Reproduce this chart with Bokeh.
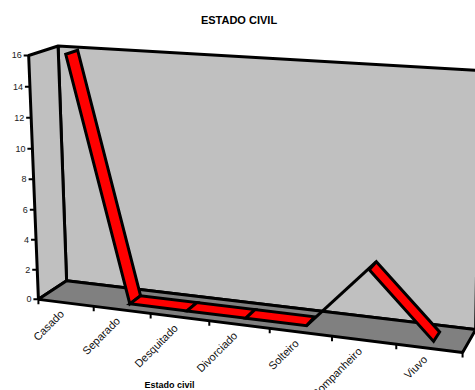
import numpy as np
from bokeh.plotting import figure
from bokeh.core.properties import value
from bokeh.embed import file_html
from bokeh.resources import INLINE

title = "ESTADO CIVIL"
x_title = "Estado civil"
categories = ["Casado", "Separado", "Desquitado", "Divorciado", "Solteiro", "Companheiro", "Viuvo"]
counts = [16, 0, 0, 0, 0, 4, 0]
y_ticks = [0, 2, 4, 6, 8, 10, 12, 14, 16]

# Perspective of the 3-D box: (category position, value, depth) -> page pixel
anchors = [
    ((0, 0, 0), (38, 298)), ((0, 16, 0), (28, 55)), ((0, 0, 1), (66, 281)), ((0, 16, 1), (58, 45)),
    ((7, 0, 0), (462, 352)), ((7, 0, 1), (475, 329)), ((7, 16, 1), (479, 70)),
    ((1, 0, 0), (93, 305)), ((2, 0, 0), (150, 313)), ((3, 0, 0), (209, 320)),
    ((4, 0, 0), (269, 328)), ((5, 0, 0), (332, 336)), ((6, 0, 0), (396, 344)),
    ((0, 8, 0), (33, 180)),
]
A, b = [], []
for (u, v, d), (px, py) in anchors:
    A.append([u, v, d, 1, 0, 0, 0, 0, -px * u, -px * v, -px * d])
    b.append(px)
    A.append([0, 0, 0, 0, u, v, d, 1, -py * u, -py * v, -py * d])
    b.append(py)
M = np.linalg.lstsq(np.array(A, float), np.array(b, float), rcond=None)[0]


def proj(u, v, d):
    w = M[8] * u + M[9] * v + M[10] * d + 1
    return (M[0] * u + M[1] * v + M[2] * d + M[3]) / w, (M[4] * u + M[5] * v + M[6] * d + M[7]) / w


def poly(points):
    xy = [proj(*q) for q in points]
    return [q[0] for q in xy], [q[1] for q in xy]


p = figure(width=475, height=390, x_range=(0, 475), y_range=(390, 0),
           output_backend="svg", toolbar_location=None, min_border=0,
           background_fill_color="white", border_fill_color="white")
p.axis.visible = False
p.grid.visible = False
p.outline_line_color = None

vmax = max(y_ticks)
nc = len(categories)
LW = 3

xs, ys = poly([(0, 0, 1), (nc, 0, 1), (nc, vmax, 1), (0, vmax, 1)])
p.patch(xs, ys, fill_color="#C0C0C0", line_color="black", line_width=LW)
xs, ys = poly([(0, 0, 0), (0, 0, 1), (0, vmax, 1), (0, vmax, 0)])
p.patch(xs, ys, fill_color="#C0C0C0", line_color="black", line_width=LW)
xs, ys = poly([(0, 0, 0), (nc, 0, 0), (nc, 0, 1), (0, 0, 1)])
p.patch(xs, ys, fill_color="#808080", line_color="black", line_width=LW)

# value ticks and labels
for t in y_ticks:
    x0, y0 = proj(0, t, 0)
    p.line([x0 - 5, x0], [y0, y0], line_color="black", line_width=2)
p.text([proj(0, t, 0)[0] - 7 for t in y_ticks], [proj(0, t, 0)[1] for t in y_ticks],
       text=[str(t) for t in y_ticks], text_align="right", text_baseline="middle",
       text_font=value("Liberation Sans"), text_font_size="9px", text_color="#222222")

# category ticks and labels
for i in range(nc + 1):
    x0, y0 = proj(i, 0, 0)
    p.line([x0, x0], [y0, y0 + 5], line_color="black", line_width=2)
lab = [proj(i + 0.5, 0, 0) for i in range(nc)]
p.text([q[0] - 4 for q in lab], [q[1] + 9 for q in lab], text=categories, angle=np.pi / 4,
       text_align="right", text_baseline="middle", text_font=value("Liberation Sans"),
       text_font_size="11px", text_color="#111111")

# the ribbon
D0, D1 = 0.3, 0.72
for i in range(nc - 1):
    u0, u1 = i + 0.5, i + 1.5
    v0, v1 = counts[i], counts[i + 1]
    if v1 > v0:
        xs, ys = poly([(u0, v0, D0), (u1, v1, D1)])
        p.line(xs, ys, line_color="black", line_width=LW)
    else:
        xs, ys = poly([(u0, v0, D0), (u1, v1, D0), (u1, v1, D1), (u0, v0, D1)])
        p.patch(xs, ys, fill_color="#FF0000", line_color="black", line_width=LW, line_join="miter")

p.text([238.5], [19], text=[title], text_align="center", text_baseline="middle",
       text_font=value("Liberation Sans"), text_font_style="bold", text_font_size="11px", text_color="black")
p.text([169], [384], text=[x_title], text_align="center", text_baseline="middle",
       text_font=value("Liberation Sans"), text_font_style="bold", text_font_size="9px", text_color="black")

open("out.html", "w").write(file_html(p, INLINE))
